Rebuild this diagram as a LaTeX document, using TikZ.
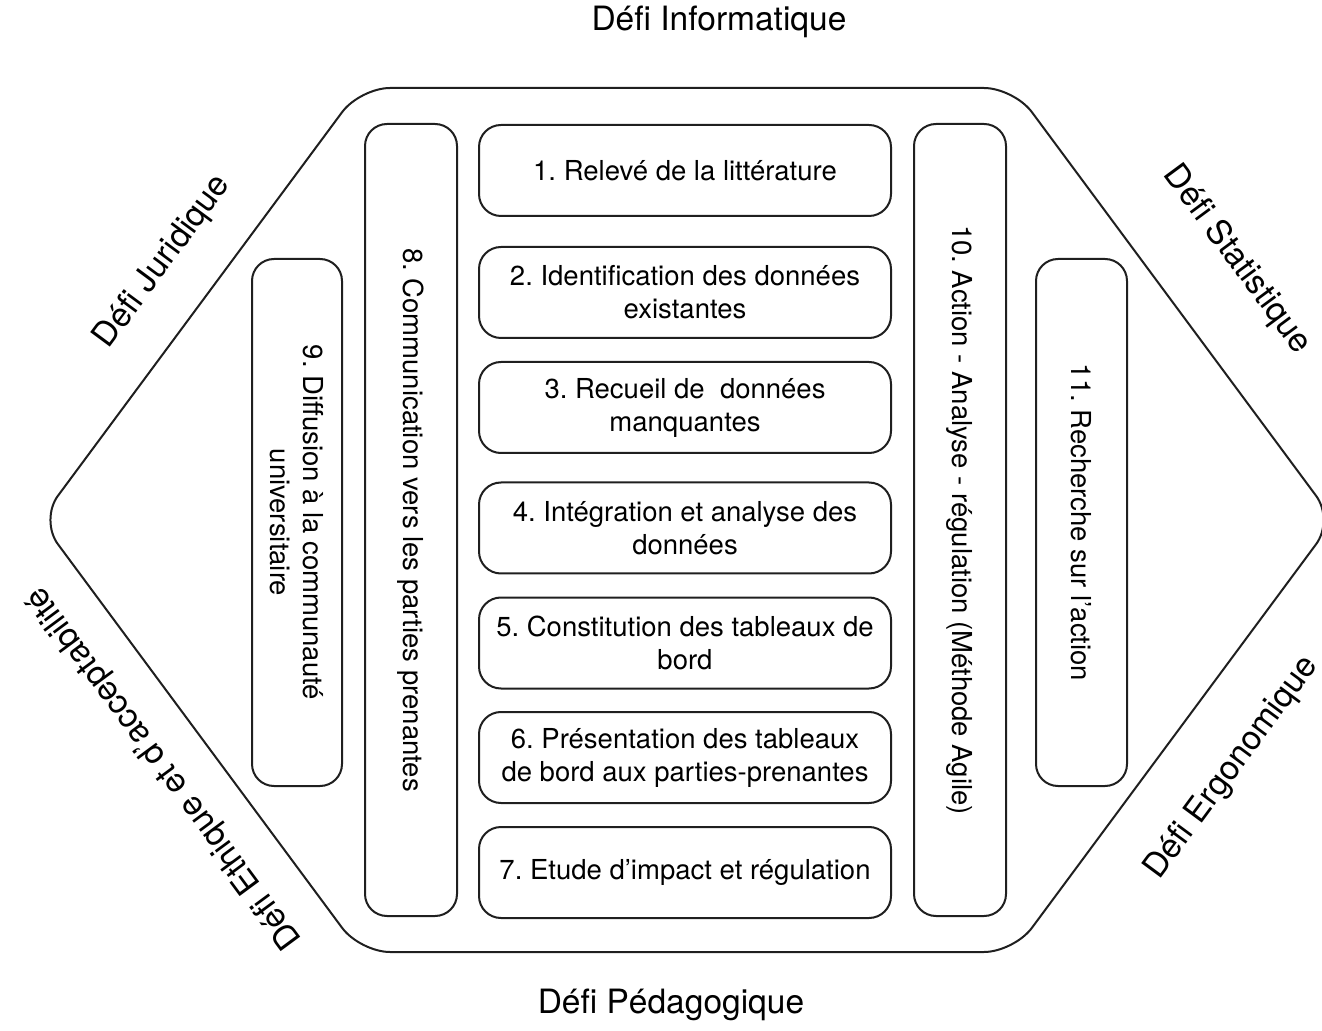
\documentclass[tikz,border=0pt]{standalone}
\usepackage{fontspec}
\setmainfont{TeX Gyre Heros}
\frenchspacing
\begin{document}
\begin{tikzpicture}[x=0.5pt,y=-0.5pt,
  ink/.style={draw=black!88, line width=1pt},
  stepbox/.style={ink, rounded corners=11pt, align=center, inner sep=2pt,
    font=\fontsize{13.75}{16.5}\selectfont},
  rowbox/.style={stepbox, minimum width=206pt, minimum height=45.5pt},
  tallbox/.style={stepbox, rotate=-90, minimum width=396pt, minimum height=46pt},
  midbox/.style={stepbox, rotate=-90, minimum width=263.5pt, minimum height=45.5pt},
  challenge/.style={font=\fontsize{16.75}{20}\selectfont, inner sep=0pt}]
\useasboundingbox (0,0) rectangle (1322,1031);

% outer hexagon
\draw[ink, rounded corners=15pt]
  (687,88) -- (1014,88) -- (1334,520) -- (1014,952) -- (360,952)
  -- (40,520) -- (360,88) -- cycle;

% central sequence of steps
\node[rowbox] (s1) at (685,170.5) {1. Relevé de la littérature};
\node[rowbox] (s2) at (685,292.5) {2. Identification des données\\existantes};
\node[rowbox] (s3) at (685,407.5) {3. Recueil de\ \ données\\manquantes};
\node[rowbox] (s4) at (685,528) {4. Intégration et analyse des\\données};
\node[rowbox] (s5) at (685,643) {5. Constitution des tableaux de\\bord};
\node[rowbox] (s6) at (685,757.5) {6. Présentation des tableaux\\de bord aux parties-prenantes};
\node[rowbox] (s7) at (685,872.5) {7. Etude d’impact et régulation};

% vertical side bars
\node[tallbox] (s8) at (411,520) {8. Communication vers les parties prenantes};
\node[midbox, minimum height=45pt] (s9) at (297,522.5) {9. Diffusion à la communauté\\universitaire};
\node[tallbox] (s10) at (960,520) {10. Action - Analyse - régulation (Méthode Agile)};
\node[midbox] (s11) at (1081.5,522.5) {11. Recherche sur l’action};

% challenges around the hexagon
\node[challenge] (dinfo) at (719,22) {Défi Informatique};
\node[challenge] (dpeda) at (671,1005) {Défi Pédagogique};
\node[challenge, rotate=53.5] (djur) at (163,262) {Défi Juridique};
\node[challenge, rotate=-53.5] (dstat) at (1237,260) {Défi Statistique};
\node[challenge, rotate=53.5] (dergo) at (1232,768) {Défi Ergonomique};
\node[challenge, rotate=126.5] (dethi) at (165,768) {Défi Ethique et d’acceptabilité};
\end{tikzpicture}
\end{document}
